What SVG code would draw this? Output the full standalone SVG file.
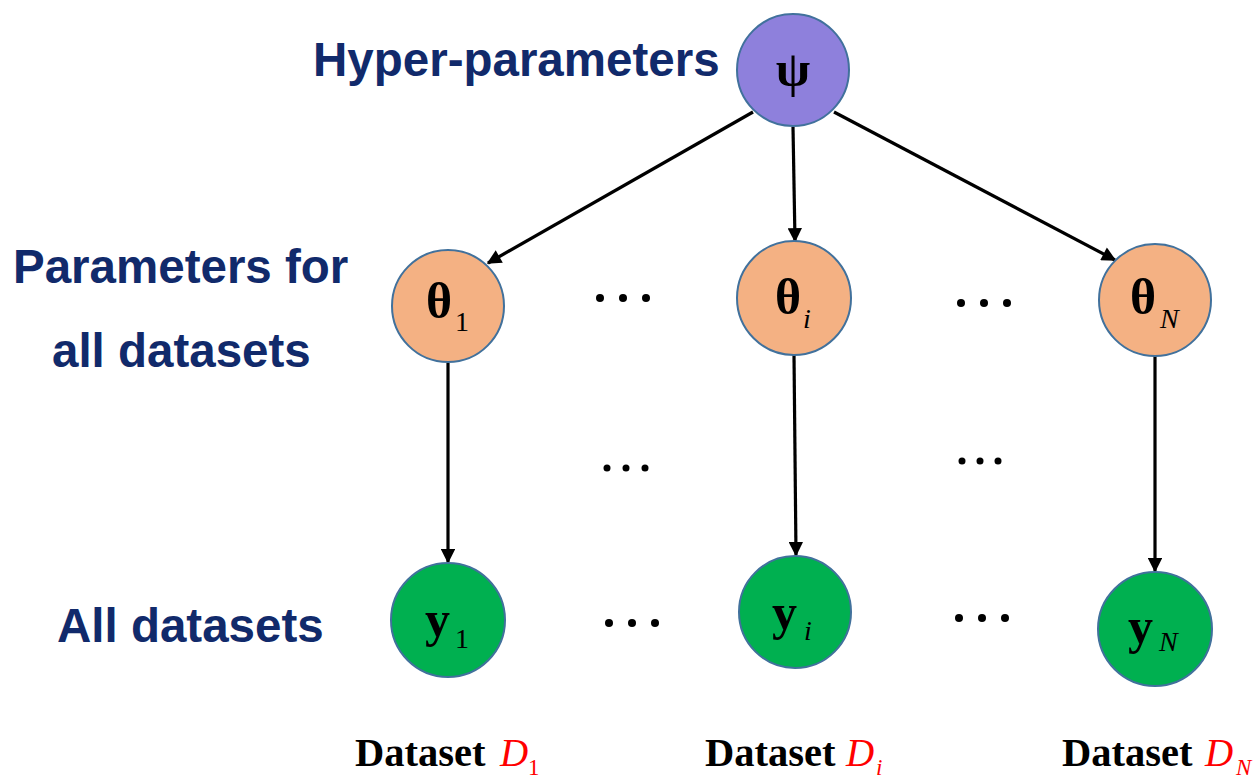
<svg xmlns="http://www.w3.org/2000/svg" width="1259" height="779" viewBox="0 0 1259 779">
<defs>
<style>
.lbl{font-family:"Liberation Sans",Arial,sans-serif;font-weight:bold;font-size:47.5px;fill:#112a6b}
.node{stroke:#41719c;stroke-width:2}
.psi{fill:#8e80dc}
.th{fill:#f4b183}
.y{fill:#00b050}
.sym{font-family:"Liberation Serif","Times New Roman",serif;font-weight:bold;font-size:50px;fill:#000}
.sub{font-family:"Liberation Serif","Times New Roman",serif;font-size:28px;fill:#000}
.it{font-style:italic}
.ds{font-family:"Liberation Serif","Times New Roman",serif;font-weight:bold;font-size:40.5px;fill:#000}
.dd{font-family:"Liberation Serif","Times New Roman",serif;font-style:italic;font-size:39px;fill:#ff0000}
.dsub{font-family:"Liberation Serif","Times New Roman",serif;font-size:23px;fill:#ff0000}
.edge{stroke:#000;stroke-width:3.2;fill:none;marker-end:url(#ah)}
.dot{fill:#000}
</style>
<marker id="ah" viewBox="0 0 10 10" refX="9" refY="5" markerWidth="5.5" markerHeight="4.5" orient="auto" markerUnits="strokeWidth">
<path d="M0,0 L10,5 L0,10 z" fill="#000"/>
</marker>
</defs>
<rect width="1259" height="779" fill="#fff"/>

<text class="lbl" x="313" y="76">Hyper-parameters</text>
<text class="lbl" x="13" y="283">Parameters for</text>
<text class="lbl" x="52" y="367">all datasets</text>
<text class="lbl" x="57" y="642">All datasets</text>

<g id="connectors">
<line class="edge" x1="753" y1="112" x2="488" y2="263"/>
<line class="edge" x1="793" y1="127" x2="795" y2="241"/>
<line class="edge" x1="834" y1="112" x2="1115" y2="260"/>
<line class="edge" x1="448" y1="363" x2="448" y2="562"/>
<line class="edge" x1="794" y1="355" x2="796" y2="555"/>
<line class="edge" x1="1155" y1="355" x2="1155" y2="571"/>
</g>

<g id="psi">
<circle class="node psi" cx="793" cy="70" r="56"/>
<text class="sym" x="793" y="86" text-anchor="middle">ψ</text>
</g>
<g id="theta1">
<circle class="node th" cx="448" cy="306" r="56"/>
<text class="sym" x="426" y="318">θ</text>
<text class="sub" x="455" y="331">1</text>
</g>
<g id="thetai">
<circle class="node th" cx="794" cy="298" r="57"/>
<text class="sym" x="775" y="314">θ</text>
<text class="sub it" x="803" y="328">i</text>
</g>
<g id="thetaN">
<circle class="node th" cx="1155" cy="300" r="56"/>
<text class="sym" x="1130" y="314">θ</text>
<text class="sub it" x="1160" y="328">N</text>
</g>
<g id="y1">
<circle class="node y" cx="448" cy="620" r="57"/>
<text class="sym" x="425" y="636">y</text>
<text class="sub" x="455" y="648">1</text>
</g>
<g id="yi">
<circle class="node y" cx="795" cy="612" r="56"/>
<text class="sym" x="772" y="629">y</text>
<text class="sub it" x="804" y="640">i</text>
</g>
<g id="yN">
<circle class="node y" cx="1155" cy="629" r="57"/>
<text class="sym" x="1128" y="643">y</text>
<text class="sub it" x="1159" y="651">N</text>
</g>

<g id="dots">
<circle class="dot" cx="600" cy="298" r="4"/><circle class="dot" cx="623" cy="298" r="4"/><circle class="dot" cx="646" cy="298" r="4"/>
<circle class="dot" cx="961" cy="303" r="4"/><circle class="dot" cx="984" cy="303" r="4"/><circle class="dot" cx="1007" cy="303" r="4"/>
<circle class="dot" cx="607" cy="468" r="3.5"/><circle class="dot" cx="626" cy="468" r="3.5"/><circle class="dot" cx="645" cy="468" r="3.5"/>
<circle class="dot" cx="962" cy="461" r="3.5"/><circle class="dot" cx="980" cy="461" r="3.5"/><circle class="dot" cx="998" cy="461" r="3.5"/>
<circle class="dot" cx="609" cy="623" r="4"/><circle class="dot" cx="632" cy="623" r="4"/><circle class="dot" cx="655" cy="623" r="4"/>
<circle class="dot" cx="959" cy="618" r="4"/><circle class="dot" cx="982" cy="618" r="4"/><circle class="dot" cx="1005" cy="618" r="4"/>
</g>

<g id="ds1">
<text class="ds" x="355" y="766">Dataset</text>
<text class="dd" x="500" y="766">D</text>
<text class="dsub" x="528" y="775">1</text>
</g>
<g id="dsi">
<text class="ds" x="705" y="766">Dataset</text>
<text class="dd" x="846" y="766">D</text>
<text class="dsub it" x="876" y="775">i</text>
</g>
<g id="dsN">
<text class="ds" x="1062" y="766">Dataset</text>
<text class="dd" x="1205" y="766">D</text>
<text class="dsub it" x="1236" y="775">N</text>
</g>
</svg>
